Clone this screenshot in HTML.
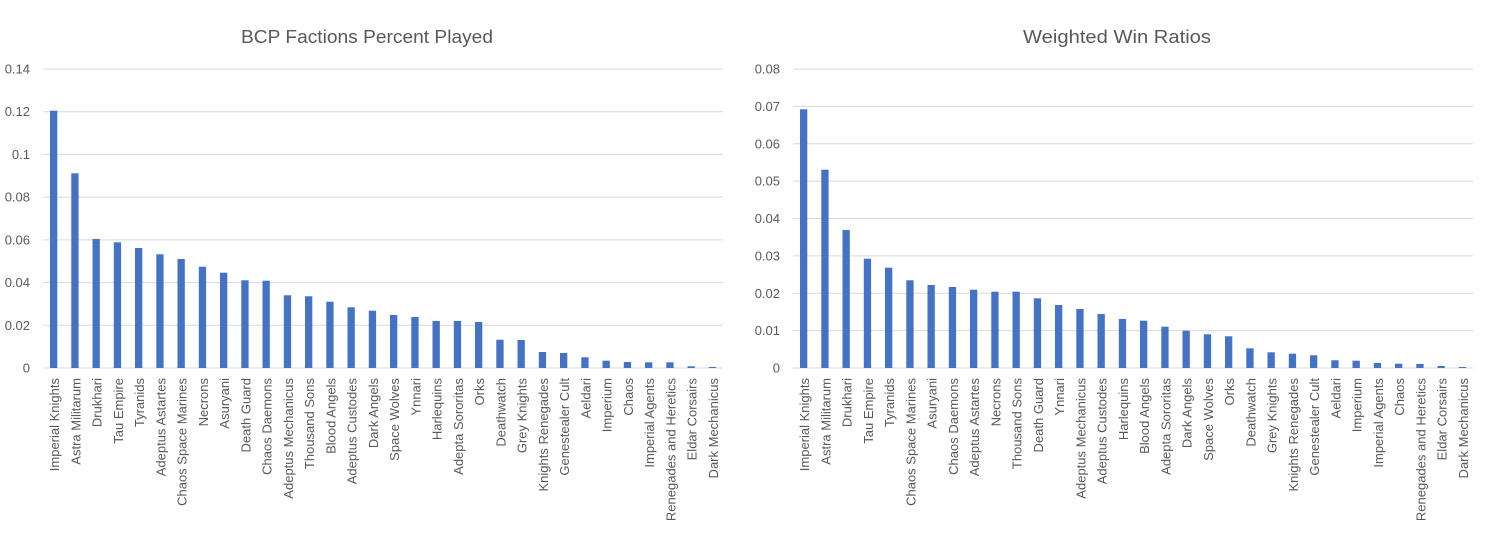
<!DOCTYPE html>
<html>
<head>
<meta charset="utf-8">
<style>
html,body{margin:0;padding:0;background:#fff;}
svg{display:block;}
text{font-family:"Liberation Sans",sans-serif;fill:#595959;}
.t{font-size:13px;}
.ti{font-size:18px;}
</style>
</head>
<body>
<svg width="1493" height="545" viewBox="0 0 1493 545" xmlns="http://www.w3.org/2000/svg">
<rect width="1493" height="545" fill="#fff"/>

<!-- LEFT CHART -->
<text class="ti" x="367" y="43" text-anchor="middle" textLength="252" lengthAdjust="spacingAndGlyphs">BCP Factions Percent Played</text>
<g stroke="#d9d9d9" stroke-width="1">
<line x1="43" x2="723" y1="69" y2="69"/>
<line x1="43" x2="723" y1="111.7" y2="111.7"/>
<line x1="43" x2="723" y1="154.4" y2="154.4"/>
<line x1="43" x2="723" y1="197.1" y2="197.1"/>
<line x1="43" x2="723" y1="239.9" y2="239.9"/>
<line x1="43" x2="723" y1="282.6" y2="282.6"/>
<line x1="43" x2="723" y1="325.3" y2="325.3"/>
<line x1="43" x2="723" y1="368" y2="368"/>
</g>
<g class="t" text-anchor="end">
<text class="t" x="30" y="73.5">0.14</text>
<text class="t" x="30" y="116.2">0.12</text>
<text class="t" x="30" y="158.9">0.1</text>
<text class="t" x="30" y="201.6">0.08</text>
<text class="t" x="30" y="244.4">0.06</text>
<text class="t" x="30" y="287.1">0.04</text>
<text class="t" x="30" y="329.8">0.02</text>
<text class="t" x="30" y="372.5">0</text>
</g>
<g fill="#4472c4">
<rect x="50.0" y="110.7" width="7.3" height="257.3"/>
<rect x="71.3" y="173.3" width="7.3" height="194.7"/>
<rect x="92.5" y="239" width="7.3" height="129"/>
<rect x="113.8" y="242.3" width="7.3" height="125.7"/>
<rect x="135.0" y="248" width="7.3" height="120"/>
<rect x="156.3" y="254.3" width="7.3" height="113.7"/>
<rect x="177.5" y="259" width="7.3" height="109"/>
<rect x="198.8" y="266.7" width="7.3" height="101.3"/>
<rect x="220.0" y="272.7" width="7.3" height="95.3"/>
<rect x="241.3" y="280.3" width="7.3" height="87.7"/>
<rect x="262.5" y="280.7" width="7.3" height="87.3"/>
<rect x="283.8" y="295.3" width="7.3" height="72.7"/>
<rect x="305.0" y="296.3" width="7.3" height="71.7"/>
<rect x="326.3" y="301.7" width="7.3" height="66.3"/>
<rect x="347.5" y="307.3" width="7.3" height="60.7"/>
<rect x="368.8" y="310.7" width="7.3" height="57.3"/>
<rect x="390.0" y="315" width="7.3" height="53"/>
<rect x="411.3" y="317" width="7.3" height="51"/>
<rect x="432.5" y="321" width="7.3" height="47"/>
<rect x="453.8" y="321" width="7.3" height="47"/>
<rect x="475.0" y="322" width="7.3" height="46"/>
<rect x="496.3" y="339.7" width="7.3" height="28.3"/>
<rect x="517.5" y="340" width="7.3" height="28"/>
<rect x="538.8" y="352" width="7.3" height="16"/>
<rect x="560.0" y="353" width="7.3" height="15"/>
<rect x="581.3" y="357.3" width="7.3" height="10.7"/>
<rect x="602.5" y="360.7" width="7.3" height="7.3"/>
<rect x="623.8" y="362" width="7.3" height="6"/>
<rect x="645.0" y="362.3" width="7.3" height="5.7"/>
<rect x="666.3" y="362.3" width="7.3" height="5.7"/>
<rect x="687.5" y="366.3" width="7.3" height="1.7"/>
<rect x="708.8" y="367" width="7.3" height="1"/>
</g>
<g class="t" text-anchor="end">
<text class="t" transform="translate(59.1,378) rotate(-90)">Imperial Knights</text>
<text class="t" transform="translate(80.4,378) rotate(-90)">Astra Militarum</text>
<text class="t" transform="translate(101.6,378) rotate(-90)">Drukhari</text>
<text class="t" transform="translate(122.9,378) rotate(-90)">Tau Empire</text>
<text class="t" transform="translate(144.1,378) rotate(-90)">Tyranids</text>
<text class="t" transform="translate(165.4,378) rotate(-90)">Adeptus Astartes</text>
<text class="t" transform="translate(186.6,378) rotate(-90)">Chaos Space Marines</text>
<text class="t" transform="translate(207.9,378) rotate(-90)">Necrons</text>
<text class="t" transform="translate(229.1,378) rotate(-90)">Asuryani</text>
<text class="t" transform="translate(250.4,378) rotate(-90)">Death Guard</text>
<text class="t" transform="translate(271.6,378) rotate(-90)">Chaos Daemons</text>
<text class="t" transform="translate(292.9,378) rotate(-90)">Adeptus Mechanicus</text>
<text class="t" transform="translate(314.1,378) rotate(-90)">Thousand Sons</text>
<text class="t" transform="translate(335.4,378) rotate(-90)">Blood Angels</text>
<text class="t" transform="translate(356.6,378) rotate(-90)">Adeptus Custodes</text>
<text class="t" transform="translate(377.9,378) rotate(-90)">Dark Angels</text>
<text class="t" transform="translate(399.1,378) rotate(-90)">Space Wolves</text>
<text class="t" transform="translate(420.4,378) rotate(-90)">Ynnari</text>
<text class="t" transform="translate(441.6,378) rotate(-90)">Harlequins</text>
<text class="t" transform="translate(462.9,378) rotate(-90)">Adepta Sororitas</text>
<text class="t" transform="translate(484.1,378) rotate(-90)">Orks</text>
<text class="t" transform="translate(505.4,378) rotate(-90)">Deathwatch</text>
<text class="t" transform="translate(526.6,378) rotate(-90)">Grey Knights</text>
<text class="t" transform="translate(547.9,378) rotate(-90)">Knights Renegades</text>
<text class="t" transform="translate(569.1,378) rotate(-90)">Genestealer Cult</text>
<text class="t" transform="translate(590.4,378) rotate(-90)">Aeldari</text>
<text class="t" transform="translate(611.6,378) rotate(-90)">Imperium</text>
<text class="t" transform="translate(632.9,378) rotate(-90)">Chaos</text>
<text class="t" transform="translate(654.1,378) rotate(-90)">Imperial Agents</text>
<text class="t" transform="translate(675.4,378) rotate(-90)">Renegades and Heretics</text>
<text class="t" transform="translate(696.6,378) rotate(-90)">Eldar Corsairs</text>
<text class="t" transform="translate(717.9,378) rotate(-90)">Dark Mechanicus</text>
</g>

<!-- RIGHT CHART -->
<text class="ti" x="1117" y="43" text-anchor="middle" textLength="188" lengthAdjust="spacingAndGlyphs">Weighted Win Ratios</text>
<g stroke="#d9d9d9" stroke-width="1">
<line x1="793" x2="1473" y1="69" y2="69"/>
<line x1="793" x2="1473" y1="106.4" y2="106.4"/>
<line x1="793" x2="1473" y1="143.75" y2="143.75"/>
<line x1="793" x2="1473" y1="181.1" y2="181.1"/>
<line x1="793" x2="1473" y1="218.5" y2="218.5"/>
<line x1="793" x2="1473" y1="255.9" y2="255.9"/>
<line x1="793" x2="1473" y1="293.25" y2="293.25"/>
<line x1="793" x2="1473" y1="330.6" y2="330.6"/>
<line x1="793" x2="1473" y1="368" y2="368"/>
</g>
<g class="t" text-anchor="end">
<text class="t" x="780" y="73.5">0.08</text>
<text class="t" x="780" y="110.9">0.07</text>
<text class="t" x="780" y="148.3">0.06</text>
<text class="t" x="780" y="185.6">0.05</text>
<text class="t" x="780" y="223">0.04</text>
<text class="t" x="780" y="260.4">0.03</text>
<text class="t" x="780" y="297.8">0.02</text>
<text class="t" x="780" y="335.1">0.01</text>
<text class="t" x="780" y="372.5">0</text>
</g>
<g fill="#4472c4">
<rect x="800.0" y="109.3" width="7.3" height="258.7"/>
<rect x="821.3" y="169.7" width="7.3" height="198.3"/>
<rect x="842.5" y="230" width="7.3" height="138"/>
<rect x="863.8" y="258.7" width="7.3" height="109.3"/>
<rect x="885.0" y="267.7" width="7.3" height="100.3"/>
<rect x="906.3" y="280.3" width="7.3" height="87.7"/>
<rect x="927.5" y="285" width="7.3" height="83"/>
<rect x="948.8" y="287" width="7.3" height="81"/>
<rect x="970.0" y="289.7" width="7.3" height="78.3"/>
<rect x="991.3" y="291.7" width="7.3" height="76.3"/>
<rect x="1012.5" y="291.7" width="7.3" height="76.3"/>
<rect x="1033.8" y="298.3" width="7.3" height="69.7"/>
<rect x="1055.0" y="305" width="7.3" height="63"/>
<rect x="1076.3" y="309" width="7.3" height="59"/>
<rect x="1097.5" y="314" width="7.3" height="54"/>
<rect x="1118.8" y="319" width="7.3" height="49"/>
<rect x="1140.0" y="320.7" width="7.3" height="47.3"/>
<rect x="1161.3" y="326.7" width="7.3" height="41.3"/>
<rect x="1182.5" y="330.7" width="7.3" height="37.3"/>
<rect x="1203.8" y="334.3" width="7.3" height="33.7"/>
<rect x="1225.0" y="336.3" width="7.3" height="31.7"/>
<rect x="1246.3" y="348.3" width="7.3" height="19.7"/>
<rect x="1267.5" y="352.3" width="7.3" height="15.7"/>
<rect x="1288.8" y="353.7" width="7.3" height="14.3"/>
<rect x="1310.0" y="355.3" width="7.3" height="12.7"/>
<rect x="1331.3" y="360.3" width="7.3" height="7.7"/>
<rect x="1352.5" y="360.7" width="7.3" height="7.3"/>
<rect x="1373.8" y="363" width="7.3" height="5"/>
<rect x="1395.0" y="363.7" width="7.3" height="4.3"/>
<rect x="1416.3" y="364" width="7.3" height="4"/>
<rect x="1437.5" y="366" width="7.3" height="2"/>
<rect x="1458.8" y="367" width="7.3" height="1"/>
</g>
<g class="t" text-anchor="end">
<text class="t" transform="translate(809.1,378) rotate(-90)">Imperial Knights</text>
<text class="t" transform="translate(830.4,378) rotate(-90)">Astra Militarum</text>
<text class="t" transform="translate(851.6,378) rotate(-90)">Drukhari</text>
<text class="t" transform="translate(872.9,378) rotate(-90)">Tau Empire</text>
<text class="t" transform="translate(894.1,378) rotate(-90)">Tyranids</text>
<text class="t" transform="translate(915.4,378) rotate(-90)">Chaos Space Marines</text>
<text class="t" transform="translate(936.6,378) rotate(-90)">Asuryani</text>
<text class="t" transform="translate(957.9,378) rotate(-90)">Chaos Daemons</text>
<text class="t" transform="translate(979.1,378) rotate(-90)">Adeptus Astartes</text>
<text class="t" transform="translate(1000.4,378) rotate(-90)">Necrons</text>
<text class="t" transform="translate(1021.6,378) rotate(-90)">Thousand Sons</text>
<text class="t" transform="translate(1042.9,378) rotate(-90)">Death Guard</text>
<text class="t" transform="translate(1064.1,378) rotate(-90)">Ynnari</text>
<text class="t" transform="translate(1085.4,378) rotate(-90)">Adeptus Mechanicus</text>
<text class="t" transform="translate(1106.6,378) rotate(-90)">Adeptus Custodes</text>
<text class="t" transform="translate(1127.9,378) rotate(-90)">Harlequins</text>
<text class="t" transform="translate(1149.1,378) rotate(-90)">Blood Angels</text>
<text class="t" transform="translate(1170.4,378) rotate(-90)">Adepta Sororitas</text>
<text class="t" transform="translate(1191.6,378) rotate(-90)">Dark Angels</text>
<text class="t" transform="translate(1212.9,378) rotate(-90)">Space Wolves</text>
<text class="t" transform="translate(1234.1,378) rotate(-90)">Orks</text>
<text class="t" transform="translate(1255.4,378) rotate(-90)">Deathwatch</text>
<text class="t" transform="translate(1276.6,378) rotate(-90)">Grey Knights</text>
<text class="t" transform="translate(1297.9,378) rotate(-90)">Knights Renegades</text>
<text class="t" transform="translate(1319.1,378) rotate(-90)">Genestealer Cult</text>
<text class="t" transform="translate(1340.4,378) rotate(-90)">Aeldari</text>
<text class="t" transform="translate(1361.6,378) rotate(-90)">Imperium</text>
<text class="t" transform="translate(1382.9,378) rotate(-90)">Imperial Agents</text>
<text class="t" transform="translate(1404.1,378) rotate(-90)">Chaos</text>
<text class="t" transform="translate(1425.4,378) rotate(-90)">Renegades and Heretics</text>
<text class="t" transform="translate(1446.6,378) rotate(-90)">Eldar Corsairs</text>
<text class="t" transform="translate(1467.9,378) rotate(-90)">Dark Mechanicus</text>
</g>
</svg>
</body>
</html>
